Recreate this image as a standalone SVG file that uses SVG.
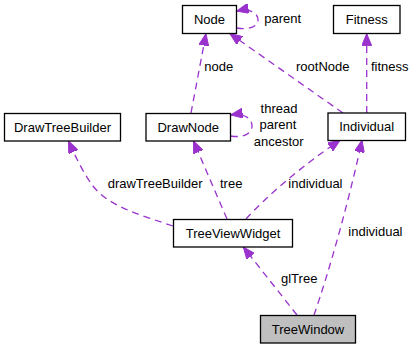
<svg xmlns="http://www.w3.org/2000/svg" width="416" height="349" viewBox="0 0 416 349">
  <style>
    .box { fill: #ffffff; stroke: #000000; stroke-width: 1.3; }
    .box.focus { fill: #bfbfbf; }
    .lbl { font-family: "Liberation Sans", Arial, sans-serif; font-size: 13px; fill: #000000; }
    .c { text-anchor: middle; }
    .edge { fill: none; stroke: #9a32cd; stroke-width: 1.3; stroke-dasharray: 7,5; marker-end: url(#arrow); }
  </style>
  <defs>
    <marker id="arrow" viewBox="0 0 12 10" refX="12" refY="5" markerUnits="userSpaceOnUse" markerWidth="12" markerHeight="10" orient="auto">
      <path d="M0,0 L12,5 L0,10 z" fill="#9a32cd" stroke="#9a32cd" stroke-width="1"/>
    </marker>
  </defs>

  <g id="connectors">
    <path class="edge" d="M236.7,28 C248,30 258,27 258,20 C258,13 250,8 236.7,11"/>
    <path class="edge" d="M191,113 L206,33.7"/>
    <path class="edge" d="M343,113 L230,33.7"/>
    <path class="edge" d="M366.7,113 L366.7,33.7"/>
    <path class="edge" d="M230.7,136 C243,138 252,134 252,126 C252,118 244,113 230.7,115"/>
    <path class="edge" d="M173,226 C140,215 108,206 93,186 C84,174 76,158 68.5,141"/>
    <path class="edge" d="M227,219 L193.5,141"/>
    <path class="edge" d="M246,219 C265,198 300,167 340,140.3"/>
    <path class="edge" d="M297,315 L243.3,247"/>
    <path class="edge" d="M314,315 C328,275 348,205 362,140.3"/>

    <text class="lbl" x="264.3" y="23">parent</text>
    <text class="lbl" x="204.3" y="71">node</text>
    <text class="lbl" x="296" y="71">rootNode</text>
    <text class="lbl" x="371" y="71">fitness</text>
    <text class="lbl c" x="279" y="112.7">thread</text>
    <text class="lbl c" x="278" y="129.3">parent</text>
    <text class="lbl c" x="278.7" y="146">ancestor</text>
    <text class="lbl" x="107.7" y="188.3">drawTreeBuilder</text>
    <text class="lbl" x="220" y="188.3">tree</text>
    <text class="lbl" x="288.3" y="188.3">individual</text>
    <text class="lbl" x="348.3" y="236">individual</text>
    <text class="lbl" x="281" y="283.3">glTree</text>
  </g>

  <g id="Node">
    <rect class="box" x="182.5" y="5.5" width="54" height="28"/>
    <text class="lbl c" x="209.5" y="23.5">Node</text>
  </g>
  <g id="Fitness">
    <rect class="box" x="333.5" y="5.5" width="66.5" height="28"/>
    <text class="lbl c" x="366.7" y="23.5">Fitness</text>
  </g>
  <g id="DrawTreeBuilder">
    <rect class="box" x="4.5" y="113.5" width="116" height="27.5"/>
    <text class="lbl c" x="62.5" y="131.7">DrawTreeBuilder</text>
  </g>
  <g id="DrawNode">
    <rect class="box" x="146" y="113.5" width="84.5" height="27.5"/>
    <text class="lbl c" x="188.2" y="131.7">DrawNode</text>
  </g>
  <g id="Individual">
    <rect class="box" x="328" y="113" width="77.5" height="27.5"/>
    <text class="lbl c" x="366.7" y="131.3">Individual</text>
  </g>
  <g id="TreeViewWidget">
    <rect class="box" x="173.5" y="219.5" width="119" height="27.5"/>
    <text class="lbl c" x="233" y="237.7">TreeViewWidget</text>
  </g>
  <g id="TreeWindow">
    <rect class="box focus" x="260.5" y="315.5" width="95" height="27.5"/>
    <text class="lbl c" x="308" y="333.7">TreeWindow</text>
  </g>
</svg>
